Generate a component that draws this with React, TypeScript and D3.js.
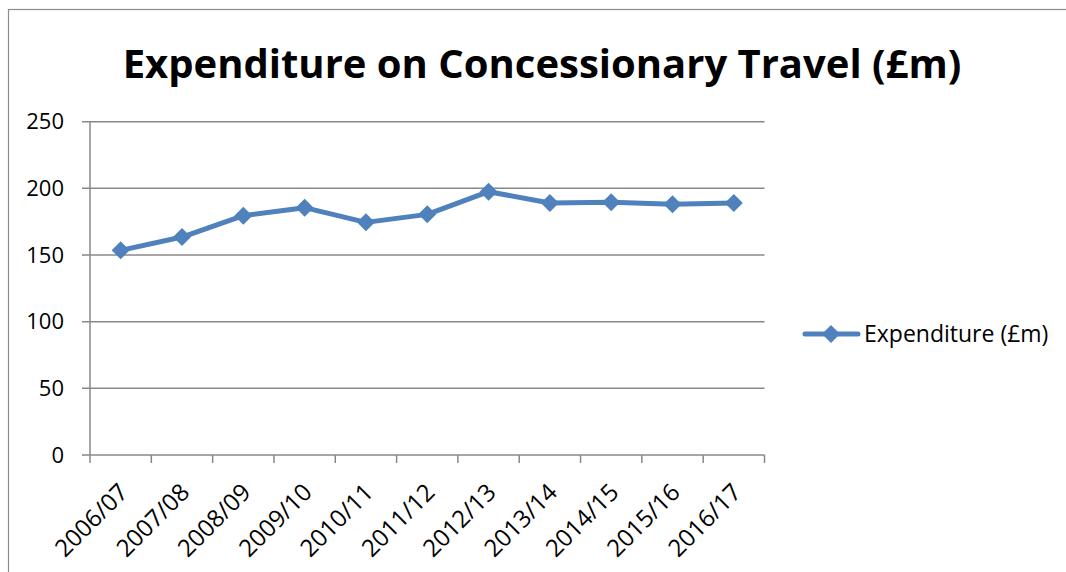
import { useMemo } from 'react';
import * as d3 from 'd3';

const years = ['2006/07', '2007/08', '2008/09', '2009/10', '2010/11', '2011/12', '2012/13', '2013/14', '2014/15', '2015/16', '2016/17'];
const expenditure = [153.5, 163.5, 179.5, 185.5, 174.5, 180.5, 197.5, 189, 189.5, 188, 189];
const yTicks = [0, 50, 100, 150, 200, 250];

const seriesName = 'Expenditure (£m)';
const chartTitle = 'Expenditure on Concessionary Travel (£m)';

const width = 1066;
const height = 572;
const marginLeft = 90;
const plotRight = 764.5;
const plotTop = 121.7;
const plotBottom = 455;
const blue = '#4f81bd';
const gridColor = '#888888';
const font = '"Open Sans", "DejaVu Sans", sans-serif';

function diamond(cx: number, cy: number, r: number) {
    return `M${cx},${cy - r}L${cx + r},${cy}L${cx},${cy + r}L${cx - r},${cy}Z`;
}

export default function App() {
    const { x, y, pathD } = useMemo(() => {
        const x = d3.scaleBand<string>().domain(years).range([marginLeft, plotRight]);
        const y = d3.scaleLinear().domain([0, 250]).range([plotBottom, plotTop]);
        const line = d3.line<number>()
            .x((_, i) => (x(years[i]) as number) + x.bandwidth() / 2)
            .y((d) => y(d));
        return { x, y, pathD: line(expenditure) || '' };
    }, []);

    const cx = (i: number) => (x(years[i]) as number) + x.bandwidth() / 2;
    const legendY = 334;

    return (
        <svg width={width} height={height} style={{ position: 'fixed', left: 0, top: 0, background: 'white' }} fontFamily={font}>
            {/* chart border */}
            <rect x={8.5} y={9.5} width={1100} height={600} fill="white" stroke="#8c8c8c" strokeWidth={1.2} />

            <text x={542} y={78} textAnchor="middle" fontSize={40} fontWeight="bold" fill="#000">{chartTitle}</text>

            {/* gridlines */}
            {yTicks.map((t) => (
                <g key={t}>
                    <line x1={marginLeft - 8} x2={plotRight} y1={y(t)} y2={y(t)} stroke={gridColor} strokeWidth={1.5} />
                    <text x={64} y={y(t)} dy="0.35em" textAnchor="end" fontSize={22} fill="#000">{t}</text>
                </g>
            ))}

            {/* y axis */}
            <line x1={marginLeft} x2={marginLeft} y1={plotTop} y2={plotBottom} stroke={gridColor} strokeWidth={1.5} />

            {/* x ticks */}
            {[...years.map((yr) => x(yr) as number), plotRight].map((tx, i) => (
                <line key={i} x1={tx} x2={tx} y1={plotBottom} y2={plotBottom + 8} stroke={gridColor} strokeWidth={1.5} />
            ))}

            {years.map((yr, i) => (
                <text key={yr} transform={`translate(${cx(i) - 3},${plotBottom + 27}) rotate(-45)`} textAnchor="end" fontSize={24} fill="#000" dy="0.7em">{yr}</text>
            ))}

            <path d={pathD} fill="none" stroke={blue} strokeWidth={5} strokeLinejoin="round" />
            {expenditure.map((v, i) => (
                <path key={i} d={diamond(cx(i), y(v), 9)} fill={blue} />
            ))}

            {/* legend */}
            <line x1={805} x2={858} y1={legendY} y2={legendY} stroke={blue} strokeWidth={5} strokeLinecap="round" />
            <path d={diamond(831, legendY, 9)} fill={blue} />
            <text x={864} y={legendY} dy="0.35em" fontSize={23} fill="#000">{seriesName}</text>
        </svg>
    );
}
